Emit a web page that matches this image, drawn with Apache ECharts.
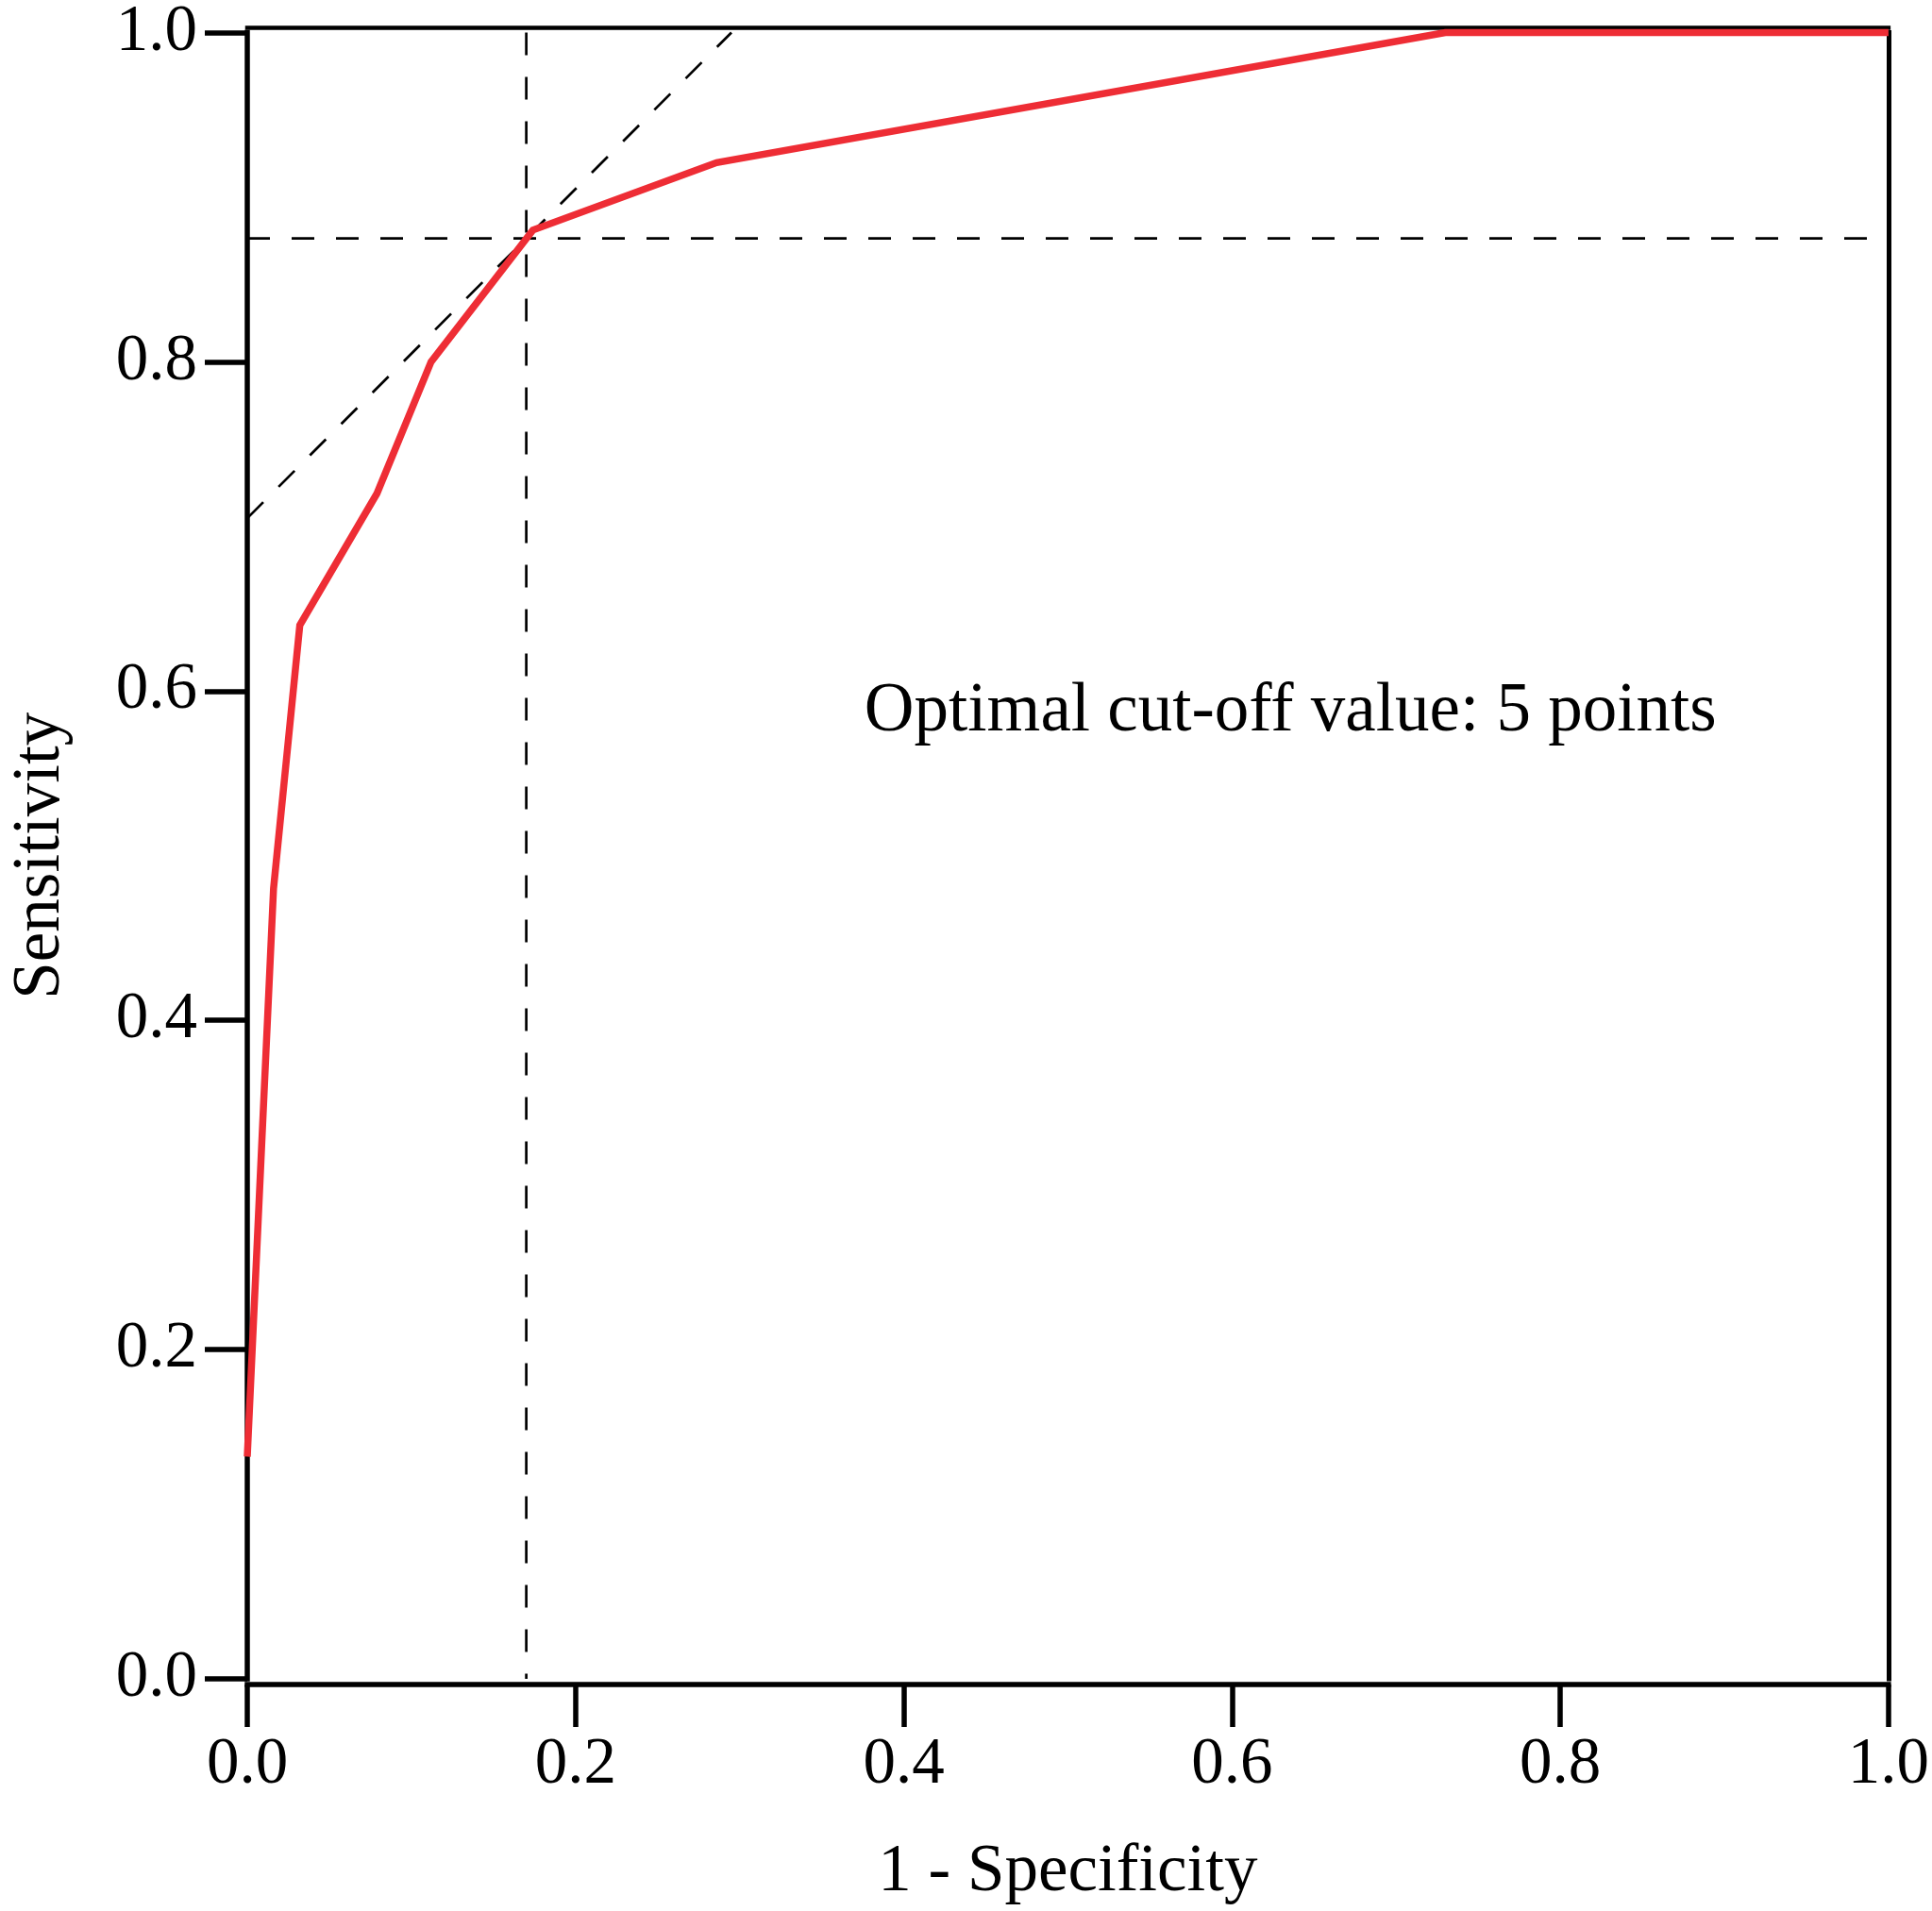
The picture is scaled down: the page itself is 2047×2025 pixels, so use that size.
<!DOCTYPE html>
<html>
<head>
<meta charset="utf-8">
<script src="https://cdn.jsdelivr.net/npm/echarts@6/dist/echarts.min.js"></script>
<style>
  html, body { margin: 0; padding: 0; background: #ffffff; }
  #chart { width: 2047px; height: 2025px; }
</style>
</head>
<body>
<div id="chart"></div>
<script>
// ROC curve
var fpr = [0.0, 0.016, 0.032, 0.079, 0.112, 0.174, 0.286, 0.730, 1.0];   // 1 - Specificity
var tpr = [0.135, 0.48, 0.64, 0.72, 0.80, 0.88, 0.921, 1.0, 1.0];       // Sensitivity
var tickValues = [0.0, 0.2, 0.4, 0.6, 0.8, 1.0];
var cutoffX = 0.17;     // vertical dashed reference
var cutoffY = 0.875;    // horizontal dashed reference
var annotationText = 'Optimal cut-off value: 5 points';
var annotationAt = [0.376, 0.5875];
var xTitle = '1 - Specificity';
var yTitle = 'Sensitivity';

var FONT = "'Liberation Serif', 'Times New Roman', serif";
var rocData = fpr.map(function (x, i) { return [x, tpr[i]]; });
var intercept = cutoffY - cutoffX;  // tangent line of slope 1 through the cut-off point

var chart = echarts.init(document.getElementById('chart'), null, { renderer: 'canvas' });

function axisCommon() {
  return {
    type: 'value', min: 0, max: 1, interval: 0.2,
    splitLine: { show: false },
    axisLine: { show: true, onZero: false, lineStyle: { color: '#000', width: 5.5, cap: 'square' } },
    axisTick: { show: true, inside: false, length: 45, lineStyle: { color: '#000', width: 5.5 } },
    axisLabel: {
      show: true, color: '#000', fontFamily: FONT, fontSize: 69, margin: 53,
      formatter: function (v) { return v.toFixed(1); }
    },
    nameTextStyle: { color: '#000', fontFamily: FONT, fontSize: 71 }
  };
}

var xMain = axisCommon();
xMain.position = 'bottom';
xMain.offset = 6;
xMain.axisLabel.margin = 51;
xMain.name = xTitle;
xMain.nameLocation = 'middle';
xMain.nameGap = 164;

var yMain = axisCommon();
yMain.position = 'left';
yMain.name = yTitle;
yMain.nameLocation = 'middle';
yMain.nameGap = 183;
yMain.nameRotate = 90;

var xTop = {
  type: 'value', min: 0, max: 1, position: 'top', offset: 5.5,
  splitLine: { show: false }, axisTick: { show: false }, axisLabel: { show: false },
  axisLine: { show: true, onZero: false, lineStyle: { color: '#000', width: 4.5, cap: 'square' } }
};
var yRight = {
  type: 'value', min: 0, max: 1, position: 'right', offset: 0,
  splitLine: { show: false }, axisTick: { show: false }, axisLabel: { show: false },
  axisLine: { show: true, onZero: false, lineStyle: { color: '#000', width: 5, cap: 'square' } }
};

var dashStyle = { color: '#000', width: 2.7, type: [24, 23] };

chart.setOption({
  backgroundColor: '#ffffff',
  animation: false,
  grid: { left: 243.5, right: 37, top: 18.5, bottom: 243, containLabel: false },
  xAxis: [xMain, xTop],
  yAxis: [yMain, yRight],
  series: [
    {
      type: 'line', xAxisIndex: 0, yAxisIndex: 0, z: 3,
      data: [[cutoffX, 1], [cutoffX, 0]],
      symbol: 'none', lineStyle: dashStyle, clip: false, silent: true
    },
    {
      type: 'line', xAxisIndex: 0, yAxisIndex: 0, z: 3,
      data: [[0, cutoffY], [1, cutoffY]],
      symbol: 'none', lineStyle: dashStyle, clip: false, silent: true
    },
    {
      type: 'line', xAxisIndex: 0, yAxisIndex: 0, z: 3,
      data: [[0, intercept], [1 - intercept, 1]],
      symbol: 'none', lineStyle: dashStyle, clip: false, silent: true
    },
    {
      type: 'line', xAxisIndex: 0, yAxisIndex: 0, z: 5,
      data: rocData,
      symbol: 'none', clip: false,
      lineStyle: { color: '#EE2D35', width: 7.5, join: 'miter' }
    }
  ]
});

// annotation placed in data space
var anchor = chart.convertToPixel({ gridIndex: 0 }, annotationAt);
chart.setOption({
  graphic: [{
    type: 'text', left: anchor[0], top: anchor[1] - 36,
    style: { text: annotationText, fill: '#000', font: '73px ' + FONT }
  }]
});
</script>
</body>
</html>
